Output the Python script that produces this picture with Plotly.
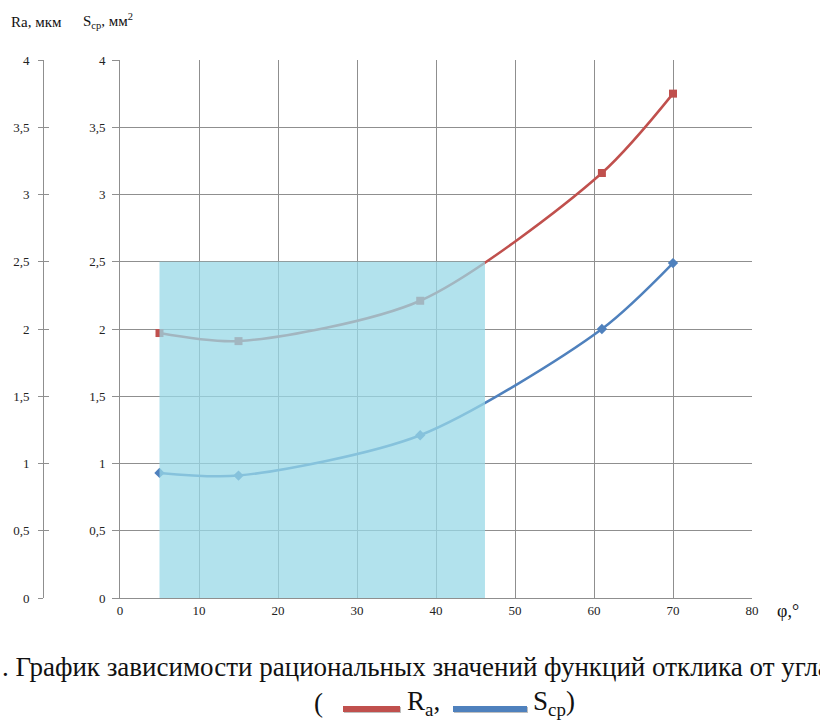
import plotly.graph_objects as go

# ---- data ----
phi = [5, 15, 38, 61, 70]
ra_values = [1.97, 1.91, 2.21, 3.16, 3.75]
s_values = [0.93, 0.91, 1.21, 2.0, 2.49]
y_ticks = [0, 0.5, 1, 1.5, 2, 2.5, 3, 3.5, 4]
y_tick_labels = ["0", "0,5", "1", "1,5", "2", "2,5", "3", "3,5", "4"]
x_ticks = [0, 10, 20, 30, 40, 50, 60, 70, 80]
zone_x = [5, 46.2]
zone_y = [0, 2.5]

W, H = 820, 722
px0, px1 = 120, 752
py_top, py_bot = 60, 598

def fx(p):
    return p / W

def fy(p):
    return 1 - p / H

RED = "#C0504D"
BLUE = "#4F81BD"
GRID = "#8f8f8f"
SERIF = "Liberation Serif"

fig = go.Figure()
fig.add_trace(go.Scatter(x=phi, y=ra_values, mode="lines+markers",
                         line=dict(color=RED, width=2.5, shape="spline", smoothing=0.8),
                         marker=dict(symbol="square", size=8, color=RED),
                         showlegend=False))
fig.add_trace(go.Scatter(x=phi, y=s_values, mode="lines+markers",
                         line=dict(color=BLUE, width=2.5, shape="spline", smoothing=0.8),
                         marker=dict(symbol="diamond", size=8, color=BLUE),
                         showlegend=False))
fig.add_trace(go.Scatter(x=[0], y=[0], yaxis="y2", mode="markers",
                         marker=dict(opacity=0), showlegend=False, hoverinfo="skip"))
fig.add_trace(go.Scatter(x=[0], y=[0], yaxis="y3", mode="markers",
                         marker=dict(opacity=0), showlegend=False, hoverinfo="skip"))

fig.add_shape(type="rect", xref="x", yref="y", x0=zone_x[0], x1=zone_x[1],
              y0=zone_y[0], y1=zone_y[1], fillcolor="rgb(152,216,231)",
              opacity=0.75, line=dict(width=0), layer="above")

tickfont = dict(family=SERIF, size=13, color="#222")
fig.update_layout(
    width=W, height=H, margin=dict(l=0, r=0, t=0, b=0, pad=0, autoexpand=False),
    font=dict(family=SERIF),
    paper_bgcolor="white", plot_bgcolor="white",
    xaxis=dict(domain=[fx(px0), fx(px1)], range=[0, 80], tickvals=x_ticks,
               showgrid=True, gridcolor=GRID, gridwidth=1, zeroline=False,
               showline=True, linecolor=GRID, linewidth=1, ticks="",
               tickfont=tickfont, automargin=False),
    yaxis=dict(domain=[fy(py_bot), fy(py_top)], range=[0, 4], tickvals=y_ticks,
               ticktext=y_tick_labels, showgrid=True, gridcolor=GRID, gridwidth=1,
               zeroline=False, showline=True, linecolor=GRID, linewidth=1,
               ticks="outside", ticklen=7, tickcolor=GRID, tickfont=tickfont,
               ticklabelstandoff=4, automargin=False),
    yaxis2=dict(overlaying="y", anchor="free", position=fx(43), side="left",
                range=[0, 4], tickvals=y_ticks, ticktext=y_tick_labels,
                showgrid=False, zeroline=False, showline=True, linecolor=GRID,
                linewidth=1, ticks="outside", ticklen=5, tickcolor=GRID,
                tickfont=tickfont, ticklabelstandoff=6, automargin=False),
    yaxis3=dict(overlaying="y", anchor="free", position=fx(43), side="left",
                range=[0, 4], tickvals=y_ticks, showticklabels=False,
                showgrid=False, zeroline=False, showline=False,
                ticks="inside", ticklen=5, tickcolor=GRID, automargin=False),
)

ann = []
ann.append(dict(x=fx(9), y=fy(22), xref="paper", yref="paper", xanchor="left",
                yanchor="middle", showarrow=False, text="Ra, мкм",
                font=dict(family=SERIF, size=15, color="#111")))
ann.append(dict(x=fx(81), y=fy(21), xref="paper", yref="paper", xanchor="left",
                yanchor="middle", showarrow=False, text="S<sub>ср</sub>, мм<sup>2</sup>",
                font=dict(family=SERIF, size=15, color="#111")))
ann.append(dict(x=fx(775), y=fy(611), xref="paper", yref="paper", xanchor="left",
                yanchor="middle", showarrow=False, text="φ,°",
                font=dict(family=SERIF, size=18, color="#111")))
ann.append(dict(x=fx(0), y=fy(667), xref="paper", yref="paper", xanchor="left",
                yanchor="middle", showarrow=False,
                text=". График зависимости рациональных значений функций отклика от угла",
                font=dict(family=SERIF, size=27, color="#111")))
ann.append(dict(x=fx(312), y=fy(703), xref="paper", yref="paper", xanchor="left",
                yanchor="middle", showarrow=False, text="(",
                font=dict(family=SERIF, size=27, color="#111")))
ann.append(dict(x=fx(405), y=fy(703), xref="paper", yref="paper", xanchor="left",
                yanchor="middle", showarrow=False, text="R<sub>a</sub>,",
                font=dict(family=SERIF, size=27, color="#111")))
ann.append(dict(x=fx(531), y=fy(703), xref="paper", yref="paper", xanchor="left",
                yanchor="middle", showarrow=False, text="S<sub>cp</sub>)",
                font=dict(family=SERIF, size=27, color="#111")))
fig.update_layout(annotations=ann)

for x0, x1, col in [(343, 400, RED), (453, 527, BLUE)]:
    fig.add_shape(type="rect", xref="paper", yref="paper",
                  x0=fx(x0 + 1), x1=fx(x1 + 1), y0=fy(713), y1=fy(707),
                  fillcolor="rgba(0,0,0,0.25)", line=dict(width=0))
    fig.add_shape(type="rect", xref="paper", yref="paper",
                  x0=fx(x0), x1=fx(x1), y0=fy(712), y1=fy(706),
                  fillcolor=col, line=dict(width=0))

fig.write_html("out.html", config={"displayModeBar": False},
               post_script="document.body.style.margin='0';document.body.style.padding='0';")
